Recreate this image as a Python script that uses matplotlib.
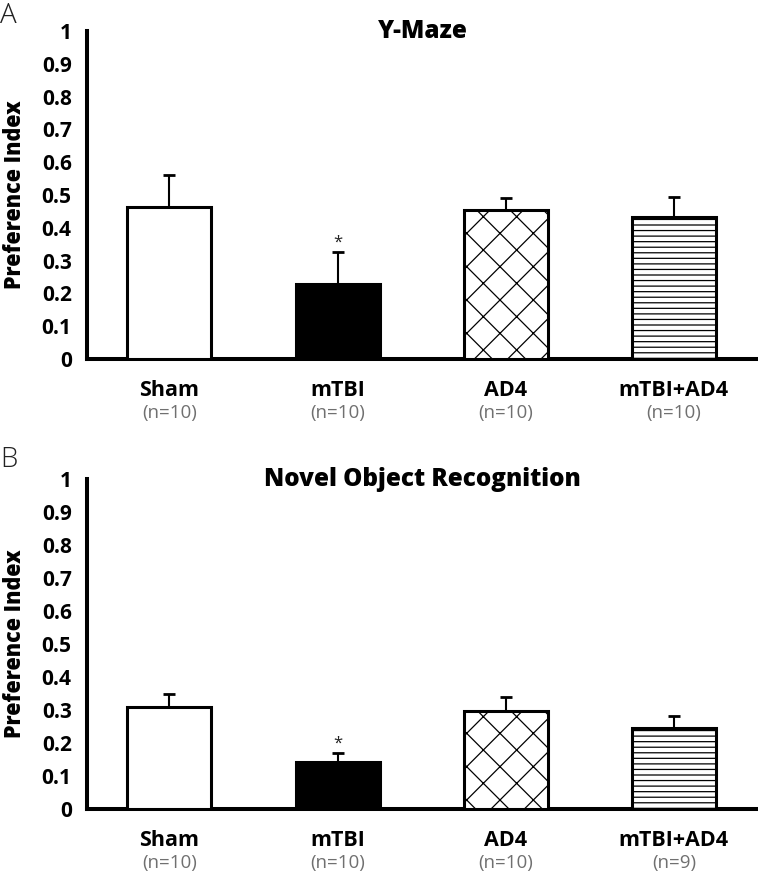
import matplotlib
matplotlib.use("Agg")
import matplotlib.pyplot as plt
import numpy as np

plt.rcParams['font.family'] = ['Open Sans', 'DejaVu Sans']
plt.rcParams['hatch.linewidth'] = 0.9
plt.rcParams['hatch.color'] = 'black'

groups = ["Sham", "mTBI", "AD4", "mTBI+AD4"]
hatches = ["", "", "x", "---"]
fills = ["white", "black", "white", "white"]

ymaze_vals = [0.462, 0.229, 0.454, 0.434]
ymaze_err = [0.098, 0.096, 0.036, 0.061]
ymaze_n = ["(n=10)", "(n=10)", "(n=10)", "(n=10)"]

nor_vals = [0.308, 0.143, 0.297, 0.245]
nor_err = [0.042, 0.028, 0.042, 0.037]
nor_n = ["(n=10)", "(n=10)", "(n=10)", "(n=9)"]

sig = [False, True, False, False]
yticks = [0, 0.1, 0.2, 0.3, 0.4, 0.5, 0.6, 0.7, 0.8, 0.9, 1.0]
yticklabels = ["0", "0.1", "0.2", "0.3", "0.4", "0.5", "0.6", "0.7", "0.8", "0.9", "1"]

W, H = 758, 873
fig = plt.figure(figsize=(W / 100, H / 100), dpi=100)

def make_panel(rect, vals, errs, ns, title):
    ax = fig.add_axes(rect)
    x = np.arange(len(groups))
    for i in range(len(groups)):
        ax.bar(x[i], vals[i], width=0.5, color=fills[i], edgecolor='black',
               linewidth=2.2, hatch=hatches[i], zorder=3)
        ax.errorbar(x[i], vals[i], yerr=[[0], [errs[i]]], fmt='none',
                    ecolor='black', elinewidth=1.5, capsize=4, capthick=2, zorder=2)
        if sig[i]:
            ax.annotate('*', xy=(x[i], vals[i] + errs[i]), xytext=(0, 1),
                        textcoords='offset points', ha='center', va='bottom',
                        fontsize=12, color='#222222')
        ax.text(x[i], -0.165, ns[i], transform=ax.get_xaxis_transform(),
                ha='center', va='center', fontsize=13.5, color='#707070')
    ax.set_xlim(-0.49, 3.5)
    ax.set_ylim(0, 1)
    ax.set_yticks(yticks)
    ax.set_yticklabels(yticklabels, fontsize=15, fontweight='bold')
    ax.set_xticks(x)
    ax.set_xticklabels(groups, fontsize=15.5, fontweight='bold')
    ax.tick_params(axis='both', length=0)
    ax.tick_params(axis='y', pad=11)
    ax.tick_params(axis='x', pad=15)
    for s in ['top', 'right']:
        ax.spines[s].set_visible(False)
    for s in ['left', 'bottom']:
        ax.spines[s].set_linewidth(2.9)
    ax.set_ylabel("Preference Index", fontsize=15.5, fontweight='heavy', va='center')
    ax.yaxis.set_label_coords(-0.108, 0.5)
    ax.text(0.5, 1.0, title, transform=ax.transAxes, ha='center', va='center',
            fontsize=17.5, fontweight='heavy')
    return ax

left = 87 / W
width = (W - 87) / W
axA = make_panel([left, 1 - 359 / H, width, 328 / H], ymaze_vals, ymaze_err, ymaze_n, "Y-Maze")
axB = make_panel([left, 1 - 809 / H, width, 330 / H], nor_vals, nor_err, nor_n, "Novel Object Recognition")

fig.text(0.0, 1 - 16 / H, "A", ha='left', va='center', fontsize=20, fontweight='light', color='#222222')
fig.text(0.0, 1 - 460 / H, "B", ha='left', va='center', fontsize=20, fontweight='light', color='#222222')

fig.savefig("out.png", dpi=100)
